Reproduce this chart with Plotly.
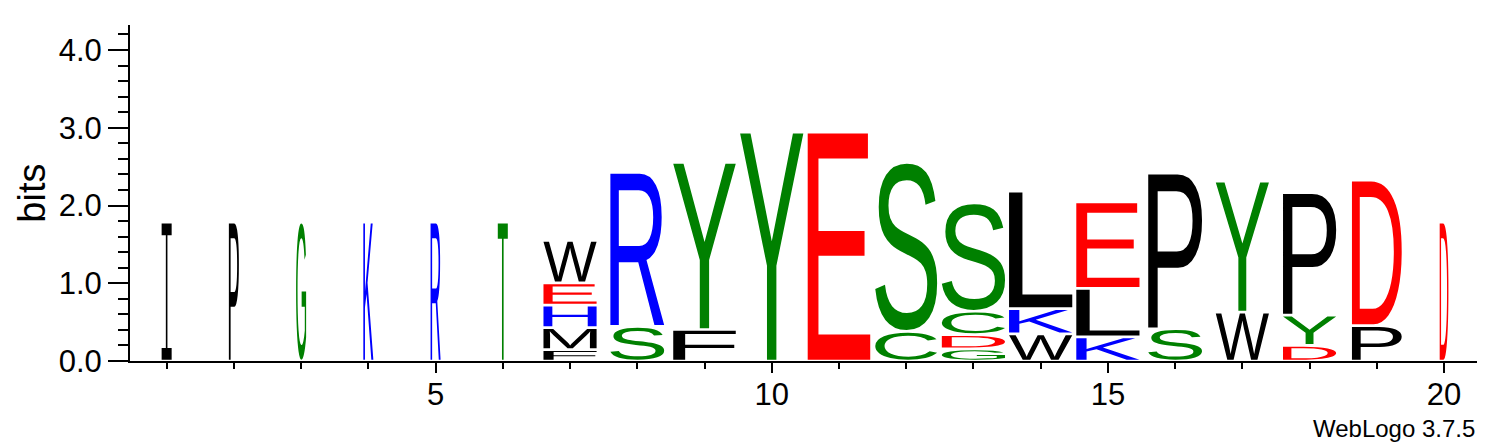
import glob
import os
import struct
import plotly.graph_objects as go

positions = list(range(1, 21))
# relative stack width per position (fraction of one column)
stack_width = [0.149, 0.149, 0.149, 0.149, 0.149, 0.149,
               0.79, 0.80, 0.93, 0.94, 0.93, 0.92, 0.94, 0.94, 0.94,
               0.80, 0.79, 0.79, 0.74, 0.13]
# letters, stacked bottom -> top inside each position
letter_pos = [1, 2, 3, 4, 5, 6,
              7, 7, 7, 7, 7,
              8, 8,
              9, 9,
              10,
              11,
              12, 12,
              13, 13, 13, 13,
              14, 14, 14,
              15, 15, 15,
              16, 16,
              17, 17,
              18, 18, 18,
              19, 19,
              20]
letter_char = ["I", "P", "G", "K", "R", "T",
               "F", "M", "H", "E", "W",
               "S", "R",
               "F", "Y",
               "Y",
               "E",
               "C", "S",
               "G", "D", "C", "S",
               "W", "K", "L",
               "K", "L", "E",
               "S", "P",
               "W", "Y",
               "D", "Y", "P",
               "P", "D",
               "D"]
letter_bits = [1.785, 1.785, 1.785, 1.785, 1.785, 1.785,
               0.145, 0.285, 0.29, 0.285, 0.545,
               0.445, 1.98,
               0.405, 2.15,
               2.945,
               2.945,
               0.38, 2.175,
               0.155, 0.185, 0.30, 1.395,
               0.35, 0.325, 1.51,
               0.31, 0.625, 1.11,
               0.415, 2.0,
               0.63, 1.685,
               0.20, 0.39, 1.575,
               0.455, 1.87,
               1.785]
y_max_bits = 4.3219
x_label_ticks = [5, 10, 15, 20]

# ---------------- style ----------------
GREEN, BLUE, RED, BLACK = "#008000", "#0000FF", "#FF0000", "#000000"
COLORS = {"G": GREEN, "S": GREEN, "T": GREEN, "Y": GREEN, "C": GREEN,
          "K": BLUE, "R": BLUE, "H": BLUE,
          "D": RED, "E": RED,
          "Q": "#800080", "N": "#800080"}
FONT = "Liberation Sans, Arial, Helvetica, sans-serif"
LETTER_GAP = 0.035  # bits of white space between stacked letters


# ---------------- minimal TrueType glyph reader ----------------
def find_font():
    names = ["LiberationSans-Regular.ttf", "Arimo-Regular.ttf", "DejaVuSans.ttf",
             "Roboto-Regular.ttf", "OpenSans-Regular.ttf", "Lato-Regular.ttf"]
    roots = ["/usr/share/fonts", "/usr/local/share/fonts",
             os.path.expanduser("~/.fonts"), os.path.expanduser("~/.local/share/fonts")]
    for n in names:
        for r in roots:
            hits = glob.glob(os.path.join(r, "**", n), recursive=True)
            if hits:
                return hits[0]
    for r in roots:
        hits = sorted(glob.glob(os.path.join(r, "**", "*.ttf"), recursive=True))
        if hits:
            return hits[0]
    return None


class TTF:
    def __init__(self, path):
        d = open(path, "rb").read()
        self.d = d
        n = struct.unpack_from(">H", d, 4)[0]
        self.t = {}
        for i in range(n):
            tag, _, off, _ln = struct.unpack_from(">4sIII", d, 12 + 16 * i)
            self.t[tag.decode("latin1")] = off
        self.locfmt = struct.unpack_from(">h", d, self.t["head"] + 50)[0]
        self.cm = self._cmap()

    def _loca(self, g):
        L = self.t["loca"]
        if self.locfmt == 0:
            a, b = struct.unpack_from(">HH", self.d, L + 2 * g)
            return 2 * a, 2 * b
        return struct.unpack_from(">II", self.d, L + 4 * g)

    def _cmap(self):
        d = self.d
        c = self.t["cmap"]
        n = struct.unpack_from(">H", d, c + 2)[0]
        subs = []
        for i in range(n):
            pid, eid, off = struct.unpack_from(">HHI", d, c + 4 + 8 * i)
            subs.append((pid, eid, c + off))
        for pid, eid, s in subs:
            if struct.unpack_from(">H", d, s)[0] == 4 and (pid in (0, 3)):
                return ("4", s)
        for pid, eid, s in subs:
            if struct.unpack_from(">H", d, s)[0] == 12:
                return ("12", s)
        return None

    def gid(self, ch):
        code = ord(ch)
        kind, s = self.cm
        d = self.d
        if kind == "4":
            segx2 = struct.unpack_from(">H", d, s + 6)[0]
            ends, starts = s + 14, s + 16 + segx2
            deltas, ros = s + 16 + 2 * segx2, s + 16 + 3 * segx2
            for i in range(segx2 // 2):
                e = struct.unpack_from(">H", d, ends + 2 * i)[0]
                if e >= code:
                    st = struct.unpack_from(">H", d, starts + 2 * i)[0]
                    if st > code:
                        return 0
                    delta = struct.unpack_from(">h", d, deltas + 2 * i)[0]
                    ro = struct.unpack_from(">H", d, ros + 2 * i)[0]
                    if ro == 0:
                        return (code + delta) & 0xFFFF
                    g = struct.unpack_from(">H", d, ros + 2 * i + ro + 2 * (code - st))[0]
                    return (g + delta) & 0xFFFF if g else 0
            return 0
        ng = struct.unpack_from(">I", d, s + 12)[0]
        for i in range(ng):
            a, b, g0 = struct.unpack_from(">III", d, s + 16 + 12 * i)
            if a <= code <= b:
                return g0 + code - a
        return 0

    def glyph(self, g):
        a, b = self._loca(g)
        if b <= a:
            return [], None
        d = self.d
        p = self.t["glyf"] + a
        nc, x0, y0, x1, y1 = struct.unpack_from(">hhhhh", d, p)
        if nc < 0:
            return self._composite(p + 10), (x0, y0, x1, y1)
        ends = struct.unpack_from(">%dH" % nc, d, p + 10)
        q = p + 10 + 2 * nc
        il = struct.unpack_from(">H", d, q)[0]
        q += 2 + il
        npts = ends[-1] + 1 if nc else 0
        flags = []
        while len(flags) < npts:
            f = d[q]
            q += 1
            flags.append(f)
            if f & 8:
                r = d[q]
                q += 1
                flags.extend([f] * r)
        flags = flags[:npts]
        xs, v = [], 0
        for f in flags:
            if f & 2:
                dv = d[q]
                q += 1
                v += dv if f & 16 else -dv
            elif not f & 16:
                v += struct.unpack_from(">h", d, q)[0]
                q += 2
            xs.append(v)
        ys, v = [], 0
        for f in flags:
            if f & 4:
                dv = d[q]
                q += 1
                v += dv if f & 32 else -dv
            elif not f & 32:
                v += struct.unpack_from(">h", d, q)[0]
                q += 2
            ys.append(v)
        out, s = [], 0
        for e in ends:
            out.append([(xs[i], ys[i], bool(flags[i] & 1)) for i in range(s, e + 1)])
            s = e + 1
        return out, (x0, y0, x1, y1)

    def _composite(self, p):
        d = self.d
        out = []
        while True:
            fl, g = struct.unpack_from(">HH", d, p)
            p += 4
            if fl & 1:
                dx, dy = struct.unpack_from(">hh", d, p)
                p += 4
            else:
                dx, dy = struct.unpack_from(">bb", d, p)
                p += 2
            if not fl & 2:
                dx = dy = 0
            if fl & 8:
                p += 2
            elif fl & 0x40:
                p += 4
            elif fl & 0x80:
                p += 8
            sub, _ = self.glyph(g)
            for c in sub:
                out.append([(x + dx, y + dy, on) for x, y, on in c])
            if not fl & 0x20:
                break
        return out


def serif_I():
    # WebLogo draws "I" with serifs; outline in a unit box
    s, t = 0.085, 0.16
    a, b = 0.5 - t / 2, 0.5 + t / 2
    pts = [(0, 0), (1, 0), (1, s), (b, s), (b, 1 - s), (1, 1 - s), (1, 1), (0, 1),
           (0, 1 - s), (a, 1 - s), (a, s), (0, s)]
    return [[(x, y, True) for x, y in pts]], (0, 0, 1, 1)


def contour_path(c, tf):
    def fm(pt):
        X, Y = tf(pt[0], pt[1])
        return "%.5f,%.5f" % (X, Y)
    idx = next((i for i, p in enumerate(c) if p[2]), None)
    if idx is None:
        start = ((c[-1][0] + c[0][0]) / 2.0, (c[-1][1] + c[0][1]) / 2.0)
        seq = c
    else:
        start = c[idx][:2]
        seq = c[idx + 1:] + c[:idx + 1]
    parts = ["M" + fm(start)]
    ctrl = None
    for x, y, on in seq:
        if on:
            if ctrl is not None:
                parts.append("Q" + fm(ctrl) + " " + fm((x, y)))
                ctrl = None
            else:
                parts.append("L" + fm((x, y)))
        else:
            if ctrl is not None:
                mid = ((ctrl[0] + x) / 2.0, (ctrl[1] + y) / 2.0)
                parts.append("Q" + fm(ctrl) + " " + fm(mid))
            ctrl = (x, y)
    if ctrl is not None:
        parts.append("Q" + fm(ctrl) + " " + fm(start))
    parts.append("Z")
    return " ".join(parts)


font_path = find_font()
ttf = None
if font_path:
    try:
        ttf = TTF(font_path)
    except Exception:
        ttf = None

glyph_cache = {}


def get_glyph(ch):
    if ch in glyph_cache:
        return glyph_cache[ch]
    if ch == "I":
        res = serif_I()
    elif ttf is not None:
        try:
            res = ttf.glyph(ttf.gid(ch))
        except Exception:
            res = ([], None)
    else:
        res = ([], None)
    glyph_cache[ch] = res
    return res


# ---------------- build the logo ----------------
shapes = []
annotations = []
stack_base = {p: 0.0 for p in positions}
for pos, ch, bits in zip(letter_pos, letter_char, letter_bits):
    base = stack_base[pos]
    stack_base[pos] = base + bits
    w = stack_width[positions.index(pos)]
    x_lo, x_hi = pos - w / 2.0, pos + w / 2.0
    y_lo, y_hi = base + LETTER_GAP / 2.0, base + bits - LETTER_GAP / 2.0
    color = COLORS.get(ch, BLACK)
    contours, bbox = get_glyph(ch)
    if contours and bbox:
        gx0, gy0, gx1, gy1 = bbox

        def tf(x, y, gx0=gx0, gy0=gy0, gx1=gx1, gy1=gy1,
               x_lo=x_lo, x_hi=x_hi, y_lo=y_lo, y_hi=y_hi):
            return (x_lo + (x - gx0) / float(gx1 - gx0) * (x_hi - x_lo),
                    y_lo + (y - gy0) / float(gy1 - gy0) * (y_hi - y_lo))
        path = " ".join(contour_path(c, tf) for c in contours)
        shapes.append(dict(type="path", xref="x", yref="y", path=path,
                           fillcolor=color, line=dict(width=0), layer="above"))
    else:
        shapes.append(dict(type="rect", xref="x", yref="y", x0=x_lo, x1=x_hi,
                           y0=y_lo, y1=y_hi, fillcolor=color, line=dict(width=0)))

totals = [stack_base[p] for p in positions]

fig = go.Figure()
fig.add_trace(go.Scatter(x=positions, y=totals, mode="markers",
                         marker=dict(opacity=0, size=4), showlegend=False,
                         hovertemplate="position %{x}: %{y:.2f} bits<extra></extra>"))

annotations.append(dict(text="bits", xref="paper", yref="paper", x=-0.073, y=0.5,
                        xanchor="center", yanchor="middle", textangle=-90,
                        showarrow=False, font=dict(family=FONT, size=38, color="black")))
annotations.append(dict(text="WebLogo 3.7.5", xref="paper", yref="paper", x=1.0, y=-0.2,
                        xanchor="right", yanchor="middle", showarrow=False,
                        font=dict(family=FONT, size=24, color="black")))

fig.update_layout(
    width=1503, height=444,
    margin=dict(l=130, r=26, t=25, b=83),
    paper_bgcolor="white", plot_bgcolor="white",
    shapes=shapes, annotations=annotations,
    font=dict(family=FONT, color="black"),
    xaxis=dict(range=[0.455, 20.49], showgrid=False, zeroline=False,
               showline=True, linecolor="black", linewidth=2,
               ticks="outside", tickmode="array", tickvals=x_label_ticks,
               ticktext=[str(v) for v in x_label_ticks],
               ticklen=10, tickwidth=2, tickcolor="black",
               ticklabelstandoff=-5,
               tickfont=dict(family=FONT, size=31, color="black"),
               minor=dict(tickmode="array", tickvals=positions, ticks="outside",
                          ticklen=6, tickwidth=2, tickcolor="black", showgrid=False),
               fixedrange=True),
    yaxis=dict(range=[0, y_max_bits], showgrid=False, zeroline=False,
               showline=True, linecolor="black", linewidth=2,
               ticks="outside", tick0=0, dtick=1, tickformat=".1f",
               ticklen=20, tickwidth=2, tickcolor="black",
               tickfont=dict(family=FONT, size=31, color="black"),
               minor=dict(tick0=0, dtick=0.2, ticks="outside", ticklen=10,
                          tickwidth=2, tickcolor="black", showgrid=False),
               fixedrange=True),
)

fig.write_html("out.html", config={"displayModeBar": False},
               post_script="document.body.style.margin='0';document.body.style.padding='0';")
